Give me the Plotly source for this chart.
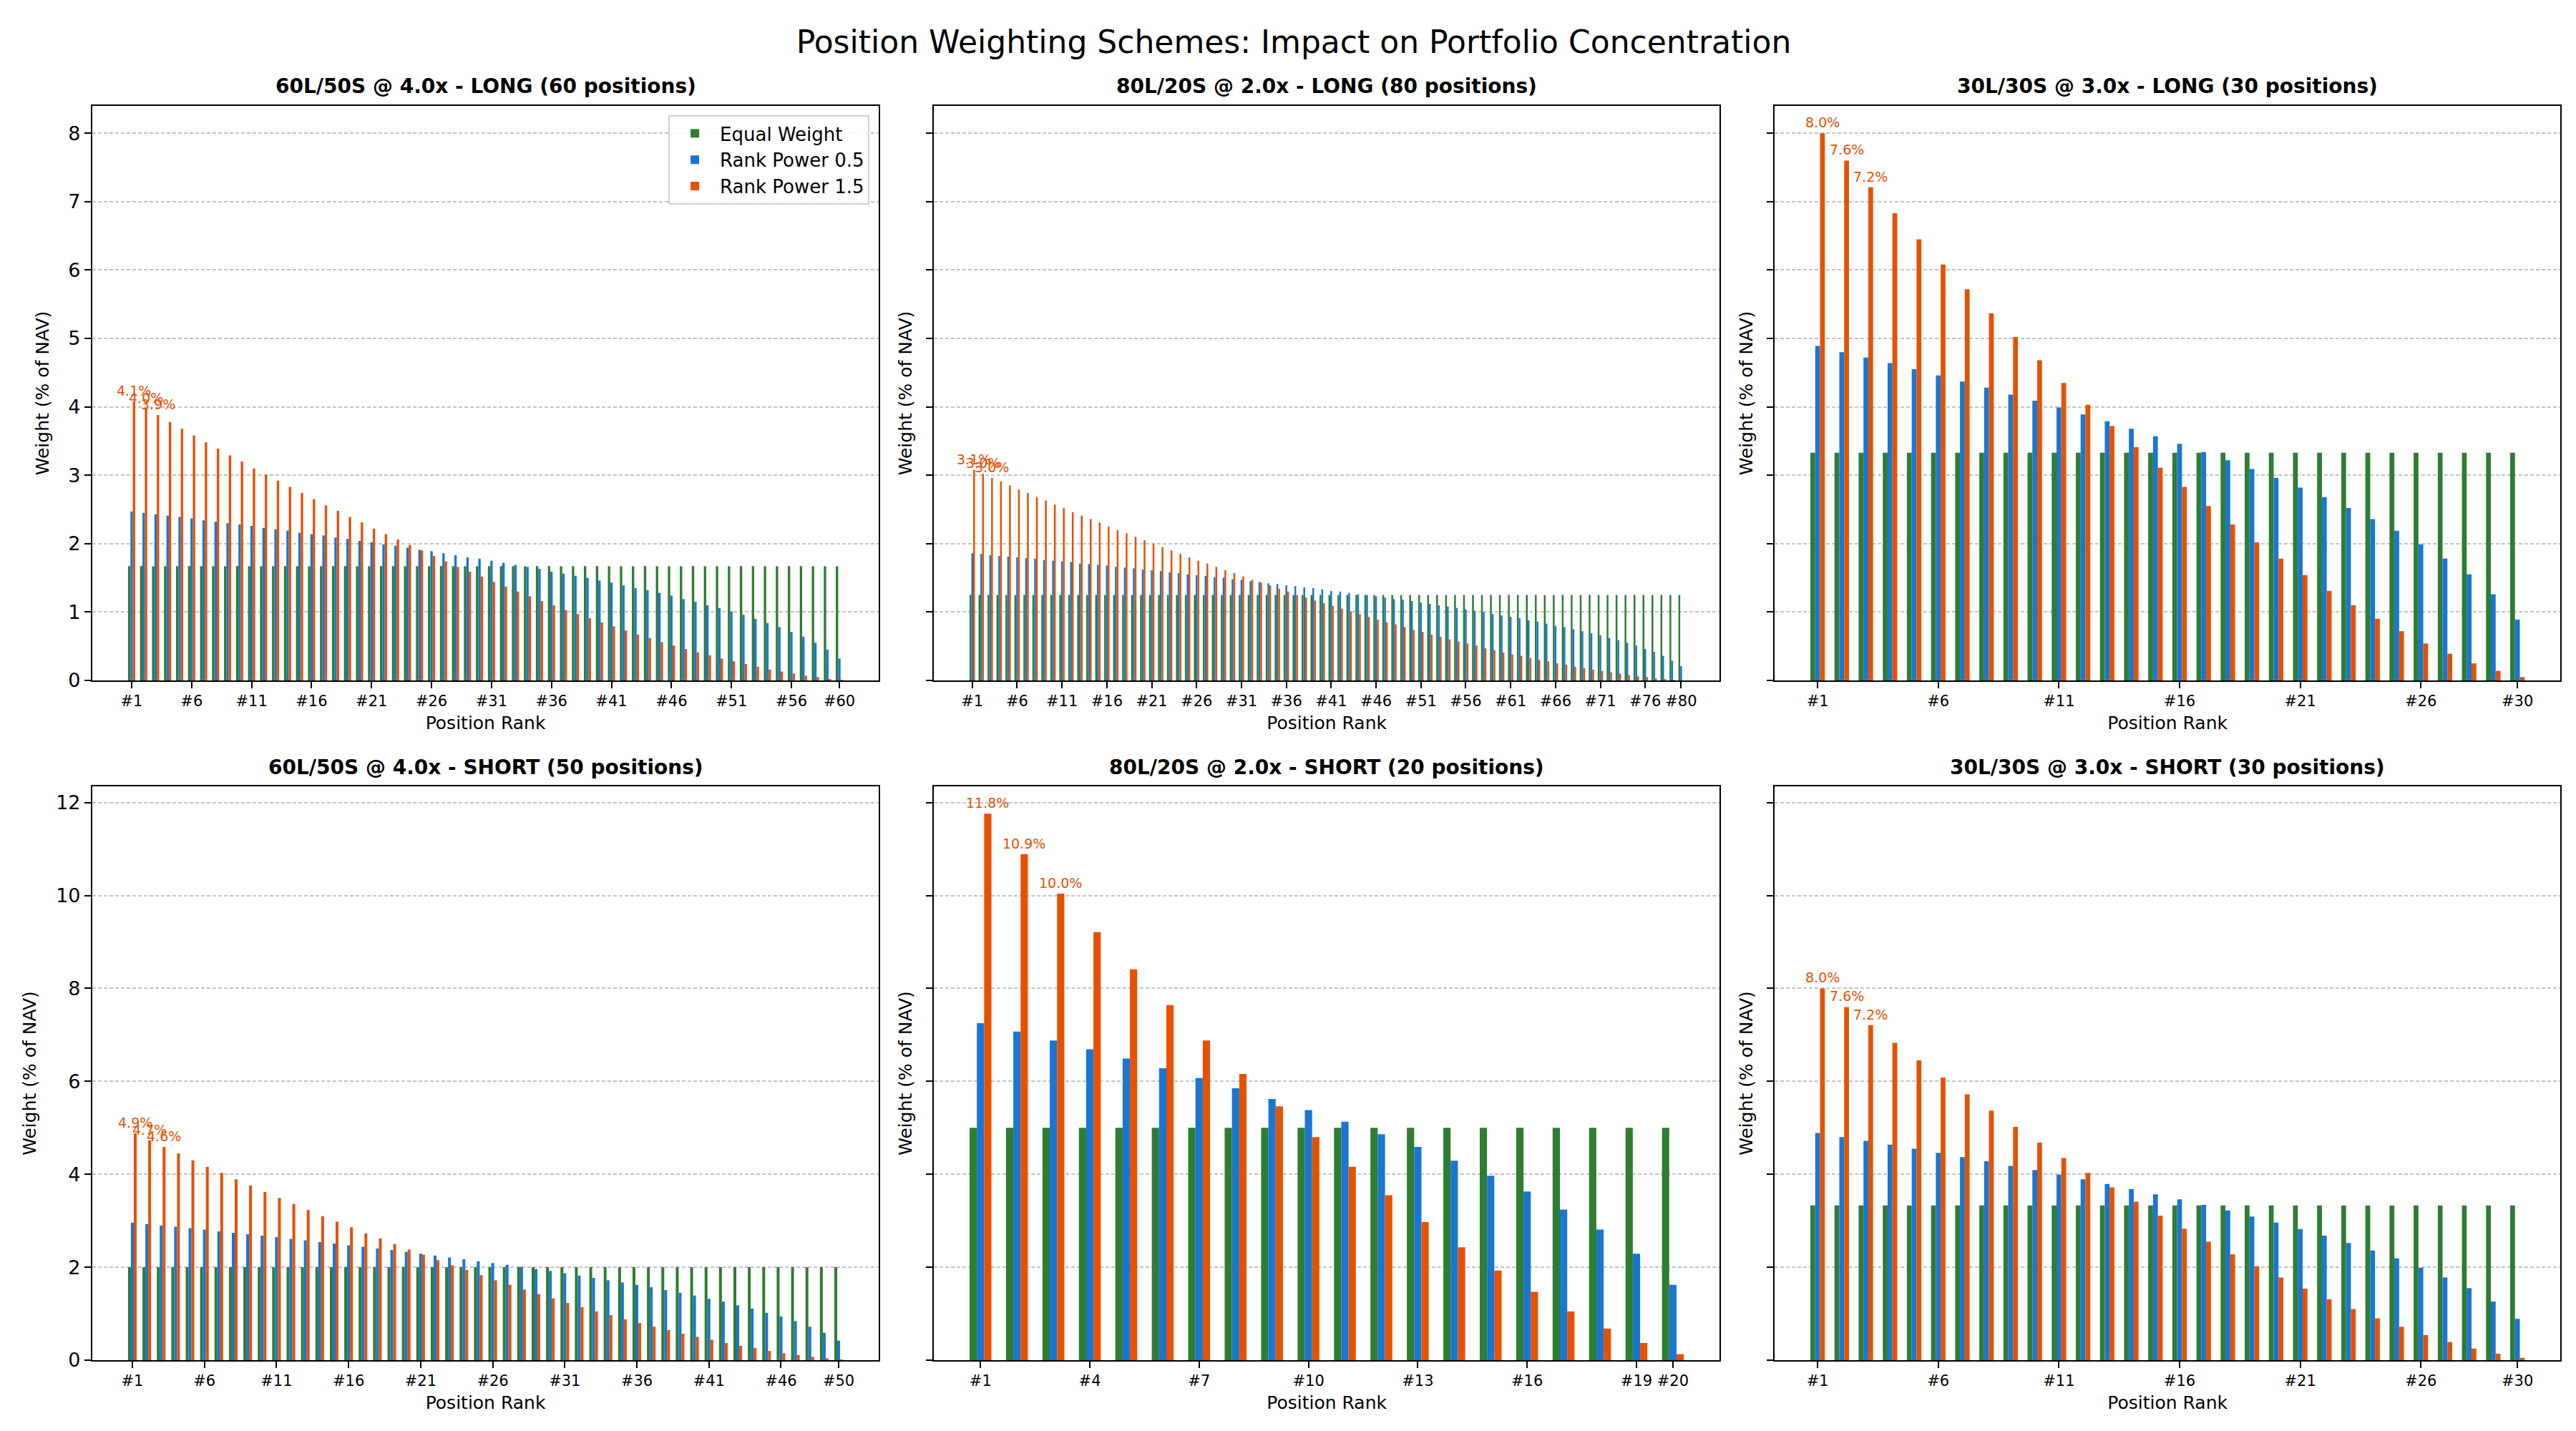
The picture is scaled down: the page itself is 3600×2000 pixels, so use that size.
import plotly.graph_objects as go

# Weights in % of NAV, ordered from position #1 (largest) downwards

# 60 long positions
EQUAL_60 = 1.67
RP05_60 = [2.47, 2.45, 2.43, 2.41, 2.39, 2.37, 2.34, 2.32, 2.30, 2.28,
           2.26, 2.23, 2.21, 2.19, 2.16, 2.14, 2.12, 2.09, 2.07, 2.04,
           2.02, 1.99, 1.97, 1.94, 1.91, 1.89, 1.86, 1.83, 1.80, 1.78,
           1.75, 1.72, 1.69, 1.66, 1.63, 1.59, 1.56, 1.53, 1.50, 1.46,
           1.43, 1.39, 1.35, 1.32, 1.28, 1.24, 1.19, 1.15, 1.10, 1.06,
           1.01, 0.96, 0.90, 0.84, 0.78, 0.71, 0.64, 0.55, 0.45, 0.32]
RP15_60 = [4.08, 3.98, 3.88, 3.78, 3.68, 3.58, 3.48, 3.39, 3.29, 3.20,
           3.10, 3.01, 2.92, 2.83, 2.74, 2.65, 2.56, 2.48, 2.39, 2.31,
           2.22, 2.14, 2.06, 1.98, 1.90, 1.82, 1.74, 1.66, 1.59, 1.52,
           1.44, 1.37, 1.30, 1.23, 1.16, 1.10, 1.03, 0.97, 0.91, 0.85,
           0.79, 0.73, 0.67, 0.62, 0.56, 0.51, 0.46, 0.41, 0.37, 0.32,
           0.28, 0.24, 0.20, 0.16, 0.13, 0.10, 0.07, 0.05, 0.02, 0.01]
TICKS_60 = ["#1", "#6", "#11", "#16", "#21", "#26", "#31", "#36", "#41",
            "#46", "#51", "#56", "#60"]

# 80 long positions
EQUAL_80 = 1.25
RP05_80 = [1.86, 1.85, 1.83, 1.82, 1.81, 1.80, 1.79, 1.78, 1.76, 1.75,
           1.74, 1.73, 1.71, 1.70, 1.69, 1.68, 1.66, 1.65, 1.64, 1.62,
           1.61, 1.60, 1.58, 1.57, 1.55, 1.54, 1.53, 1.51, 1.50, 1.48,
           1.47, 1.45, 1.44, 1.42, 1.41, 1.39, 1.38, 1.36, 1.35, 1.33,
           1.31, 1.30, 1.28, 1.26, 1.25, 1.23, 1.21, 1.19, 1.18, 1.16,
           1.14, 1.12, 1.10, 1.08, 1.06, 1.04, 1.02, 1.00, 0.97, 0.95,
           0.93, 0.91, 0.88, 0.86, 0.83, 0.80, 0.78, 0.75, 0.72, 0.69,
           0.66, 0.62, 0.59, 0.55, 0.51, 0.46, 0.42, 0.36, 0.29, 0.21]
RP15_80 = [3.08, 3.02, 2.96, 2.91, 2.85, 2.79, 2.74, 2.68, 2.63, 2.57,
           2.52, 2.46, 2.41, 2.36, 2.31, 2.25, 2.20, 2.15, 2.10, 2.05,
           2.00, 1.95, 1.90, 1.85, 1.80, 1.75, 1.71, 1.66, 1.61, 1.57,
           1.52, 1.47, 1.43, 1.39, 1.34, 1.30, 1.25, 1.21, 1.17, 1.13,
           1.09, 1.05, 1.01, 0.97, 0.93, 0.89, 0.85, 0.82, 0.78, 0.74,
           0.71, 0.67, 0.64, 0.60, 0.57, 0.54, 0.51, 0.47, 0.44, 0.41,
           0.38, 0.36, 0.33, 0.30, 0.28, 0.25, 0.23, 0.20, 0.18, 0.16,
           0.14, 0.12, 0.10, 0.08, 0.06, 0.05, 0.03, 0.02, 0.01, 0.00]
TICKS_80 = ["#1", "#6", "#11", "#16", "#21", "#26", "#31", "#36", "#41",
            "#46", "#51", "#56", "#61", "#66", "#71", "#76", "#80"]

# 30 positions (same book on the long and the short side)
EQUAL_30 = 3.33
RP05_30 = [4.89, 4.80, 4.72, 4.64, 4.55, 4.46, 4.37, 4.28, 4.18, 4.09,
           3.99, 3.89, 3.79, 3.68, 3.57, 3.46, 3.34, 3.22, 3.09, 2.96,
           2.82, 2.68, 2.52, 2.36, 2.19, 1.99, 1.78, 1.55, 1.26, 0.89]
RP15_30 = [8.00, 7.60, 7.21, 6.83, 6.45, 6.08, 5.72, 5.37, 5.02, 4.68,
           4.35, 4.03, 3.72, 3.41, 3.11, 2.83, 2.55, 2.28, 2.02, 1.78,
           1.54, 1.31, 1.10, 0.90, 0.72, 0.54, 0.39, 0.25, 0.14, 0.05]
TICKS_30 = ["#1", "#6", "#11", "#16", "#21", "#26", "#30"]

# 50 short positions
EQUAL_50 = 2.00
RP05_50 = [2.96, 2.93, 2.90, 2.87, 2.84, 2.81, 2.77, 2.74, 2.71, 2.68,
           2.65, 2.61, 2.58, 2.54, 2.51, 2.47, 2.44, 2.40, 2.37, 2.33,
           2.29, 2.25, 2.21, 2.17, 2.13, 2.09, 2.05, 2.01, 1.96, 1.92,
           1.87, 1.82, 1.77, 1.72, 1.67, 1.62, 1.57, 1.51, 1.45, 1.39,
           1.32, 1.26, 1.18, 1.11, 1.02, 0.94, 0.84, 0.72, 0.59, 0.42]
RP15_50 = [4.88, 4.73, 4.59, 4.45, 4.30, 4.16, 4.03, 3.89, 3.76, 3.62,
           3.49, 3.36, 3.23, 3.10, 2.98, 2.86, 2.73, 2.62, 2.50, 2.38,
           2.27, 2.15, 2.04, 1.94, 1.83, 1.72, 1.62, 1.52, 1.42, 1.33,
           1.23, 1.14, 1.05, 0.97, 0.88, 0.80, 0.72, 0.65, 0.57, 0.50,
           0.44, 0.37, 0.31, 0.26, 0.20, 0.15, 0.11, 0.07, 0.04, 0.01]
TICKS_50 = ["#1", "#6", "#11", "#16", "#21", "#26", "#31", "#36", "#41",
            "#46", "#50"]

# 20 short positions
EQUAL_20 = 5.00
RP05_20 = [7.25, 7.07, 6.88, 6.69, 6.49, 6.28, 6.07, 5.85, 5.62, 5.38,
           5.13, 4.86, 4.59, 4.29, 3.97, 3.63, 3.24, 2.81, 2.29, 1.62]
RP15_20 = [11.76, 10.89, 10.04, 9.21, 8.41, 7.64, 6.88, 6.16, 5.46, 4.80,
           4.16, 3.55, 2.97, 2.43, 1.93, 1.47, 1.05, 0.68, 0.37, 0.13]
TICKS_20 = ["#1", "#4", "#7", "#10", "#13", "#16", "#19", "#20"]

PANELS = [
    ("60L/50S @ 4.0x - LONG (60 positions)", EQUAL_60, RP05_60, RP15_60, TICKS_60),
    ("80L/20S @ 2.0x - LONG (80 positions)", EQUAL_80, RP05_80, RP15_80, TICKS_80),
    ("30L/30S @ 3.0x - LONG (30 positions)", EQUAL_30, RP05_30, RP15_30, TICKS_30),
    ("60L/50S @ 4.0x - SHORT (50 positions)", EQUAL_50, RP05_50, RP15_50, TICKS_50),
    ("80L/20S @ 2.0x - SHORT (20 positions)", EQUAL_20, RP05_20, RP15_20, TICKS_20),
    ("30L/30S @ 3.0x - SHORT (30 positions)", EQUAL_30, RP05_30, RP15_30, TICKS_30),
]

SCHEMES = [("Equal Weight", "#2E7D32", -0.3),
           ("Rank Power 0.5", "#1976D2", -0.1),
           ("Rank Power 1.5", "#E65100", 0.1)]
BAR_W = 0.2
FONT = "DejaVu Sans"

# layout of the 2x3 grid (paper fractions)
COL_DOM = [(0.0336, 0.3389), (0.3603, 0.6653), (0.6867, 0.9917)]
ROW_DOM = [(0.5285, 0.930), (0.0535, 0.4545)]

fig = go.Figure()

# shared y range per row
row_max = [max(max(p[3]) for p in PANELS[:3]), max(max(p[3]) for p in PANELS[3:])]
row_dtick = [1, 2]

annotations = []
for i, (title, eq, rp05, rp15, ticks) in enumerate(PANELS):
    row, col = divmod(i, 3)
    n = len(rp05)
    xs = list(range(n))
    ax = "" if i == 0 else str(i + 1)
    series = [[eq] * n, rp05, rp15]
    for (name, color, off), vals in zip(SCHEMES, series):
        fig.add_trace(go.Bar(
            x=xs, y=vals, width=BAR_W, offset=off, name=name,
            marker=dict(color=color, line=dict(width=0)),
            showlegend=(i == 0),
            xaxis="x" + ax, yaxis="y" + ax,
        ))

    # labels over the three largest Rank Power 1.5 bars
    for k in range(3):
        annotations.append(dict(
            x=k + 0.2, y=rp15[k], xref="x" + ax, yref="y" + ax,
            text=f"{rp15[k]:.1f}%", showarrow=False, yanchor="bottom",
            yshift=2, font=dict(family=FONT, size=19, color="#E65100"),
        ))

    # subplot title
    annotations.append(dict(
        x=(COL_DOM[col][0] + COL_DOM[col][1]) / 2, y=ROW_DOM[row][1] + 0.0135,
        xref="paper", yref="paper", text=f"<b>{title}</b>", showarrow=False,
        xanchor="center", yanchor="middle",
        font=dict(family=FONT, size=28, color="black"),
    ))

    span = n - 1 + 2 * 0.3
    tickvals = [int(t[1:]) - 1 for t in ticks]
    fig.update_layout({
        "xaxis" + ax: dict(
            domain=list(COL_DOM[col]), anchor="y" + ax, automargin=False,
            range=[-0.3 - 0.05 * span, n - 1 + 0.3 + 0.05 * span],
            tickvals=tickvals, ticktext=ticks,
            ticks="outside", ticklen=9, tickwidth=2, tickcolor="black",
            tickfont=dict(family=FONT, size=21, color="black"),
            showline=True, mirror=True, linecolor="black", linewidth=2,
            showgrid=False, zeroline=False,
            title=dict(text="Position Rank", standoff=10,
                       font=dict(family=FONT, size=25, color="black")),
        ),
        "yaxis" + ax: dict(
            domain=list(ROW_DOM[row]), anchor="x" + ax, automargin=False,
            range=[0, row_max[row] * 1.05], dtick=row_dtick[row],
            ticks="outside", ticklen=9, tickwidth=2, tickcolor="black",
            showticklabels=(col == 0),
            tickfont=dict(family=FONT, size=27, color="black"),
            showline=True, mirror=True, linecolor="black", linewidth=2,
            showgrid=True, gridcolor="#c4c4c4", griddash="5px,3px",
            gridwidth=1.5, zeroline=False,
            title=dict(text="Weight (% of NAV)", standoff=20 if col == 0 else 12,
                       font=dict(family=FONT, size=25, color="black")),
        ),
    })

fig.update_layout(
    width=3600, height=2000,
    barmode="overlay",
    paper_bgcolor="white", plot_bgcolor="white",
    margin=dict(l=0, r=0, t=0, b=0, autoexpand=False),
    font=dict(family=FONT, color="black"),
    title=dict(text="Position Weighting Schemes: Impact on Portfolio Concentration",
               x=0.5, xanchor="center", y=0.9745, yanchor="middle",
               font=dict(family=FONT, size=44, color="black")),
    legend=dict(x=0.3353, y=0.9235, xanchor="right", yanchor="top",
                bgcolor="rgba(255,255,255,0.85)", bordercolor="#d0d0d0",
                borderwidth=2, tracegroupgap=0,
                font=dict(family=FONT, size=26, color="black"),
                itemwidth=60),
    annotations=annotations,
)

fig.write_html("out.html")
